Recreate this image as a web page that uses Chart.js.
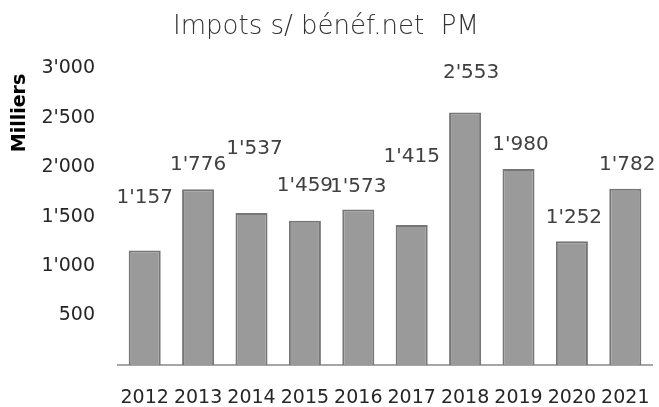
<!DOCTYPE html>
<html>
<head>
<meta charset="utf-8">
<script src="https://cdn.jsdelivr.net/npm/chart.js@4.4.1/dist/chart.umd.min.js"></script>
<style>
html,body{margin:0;padding:0;background:#fff;}
#wrap{width:659px;height:407px;position:relative;}
</style>
</head>
<body>
<div id="wrap"><canvas id="c" width="659" height="407"></canvas></div>
<script>
const titleText = "Impots s/ bénéf.net  PM";
const axisTitle = "Milliers";
const categories = ["2012","2013","2014","2015","2016","2017","2018","2019","2020","2021"];
const values = [1157, 1776, 1537, 1459, 1573, 1415, 2553, 1980, 1252, 1782];
const yTicks = [500, 1000, 1500, 2000, 2500, 3000];

// label nudges (pixels): how far above the bar top each value label sits
const labelRise = [53, 24, 64, 35, 23, 68, 40, 24, 23, 24];
const labelShift = [0, 0, 3, 0, 0, 0, 6, 2, 2, 2];

function fmt(v){
  const s = String(Math.round(v));
  return s.replace(/\B(?=(\d{3})+(?!\d))/g, "'");
}

const valueLabels = {
  id: 'valueLabels',
  afterDatasetsDraw(chart){
    const ctx = chart.ctx;
    const meta = chart.getDatasetMeta(0);
    ctx.save();
    ctx.font = '20px "DejaVu Sans"';
    ctx.fillStyle = '#404040';
    ctx.textAlign = 'center';
    ctx.textBaseline = 'middle';
    meta.data.forEach((bar, i) => {
      ctx.fillText(fmt(values[i]), bar.x + labelShift[i], bar.y - labelRise[i]);
    });
    // y axis title
    ctx.translate(20, 113);
    ctx.rotate(-Math.PI / 2);
    ctx.font = 'bold 19px "DejaVu Sans"';
    ctx.fillStyle = '#000';
    ctx.fillText(axisTitle, 0, 0);
    ctx.restore();
  }
};

new Chart(document.getElementById('c'), {
  type: 'bar',
  data: {
    labels: categories,
    datasets: [{
      data: values,
      backgroundColor: '#9a9a9a',
      borderColor: '#767676',
      borderWidth: 2,
      categoryPercentage: 1.0,
      barPercentage: 0.6
    }]
  },
  options: {
    responsive: false,
    animation: false,
    devicePixelRatio: 1,
    layout: { padding: { left: 0, right: 7, top: 0, bottom: 0 } },
    plugins: {
      legend: { display: false },
      tooltip: { enabled: false },
      title: {
        display: true,
        text: titleText,
        color: '#333333',
        font: { family: '"DejaVu Sans"', size: 26, weight: 200 },
        padding: { top: 12, bottom: 25 }
      }
    },
    scales: {
      x: {
        afterFit(scale){ scale.height = 42; scale.paddingLeft = 0; scale.paddingRight = 0; },
        grid: { display: false, drawTicks: false },
        border: { display: true, color: '#a6a6a6', width: 2 },
        ticks: { color: '#262626', font: { family: '"DejaVu Sans"', size: 19 }, padding: 22, autoSkip: false, maxRotation: 0 }
      },
      y: {
        min: 0,
        max: 3000,
        afterBuildTicks(scale){ scale.ticks = [0].concat(yTicks).map(v => ({ value: v })); },
        afterFit(scale){ scale.width = 118; },
        grid: { display: false, drawTicks: false },
        border: { display: false },
        ticks: {
          color: '#262626',
          font: { family: '"DejaVu Sans"', size: 19 },
          padding: 23,
          callback: (v) => v === 0 ? '' : fmt(v)
        }
      }
    }
  },
  plugins: [valueLabels]
});
</script>
</body>
</html>
